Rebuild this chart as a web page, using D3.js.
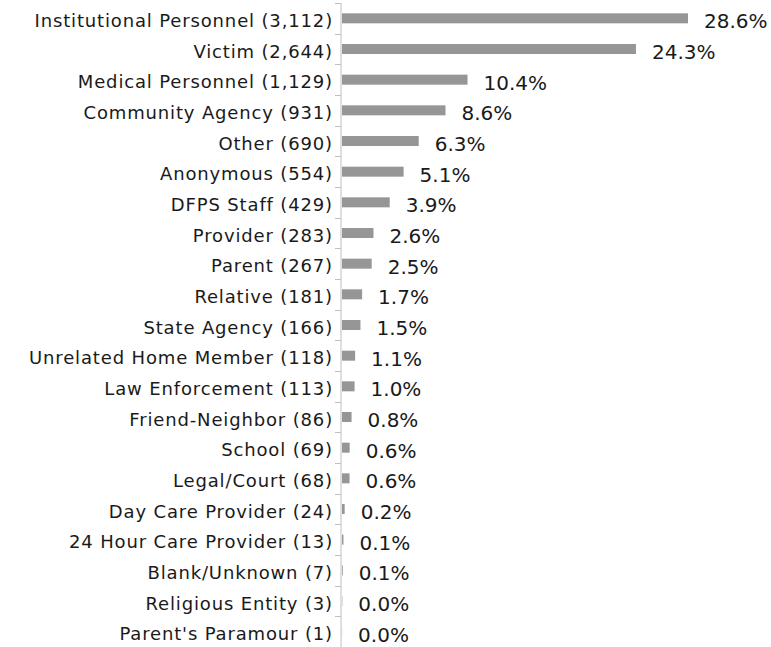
<!DOCTYPE html>
<html>
<head>
<meta charset="utf-8">
<script src="https://cdn.jsdelivr.net/npm/d3@7"></script>
<style>
  body { margin: 0; background: #fff; }
  text { font-family: "DejaVu Sans", sans-serif; fill: #1a1a1a; }
</style>
</head>
<body>
<script>
var categories = ["Institutional Personnel", "Victim", "Medical Personnel", "Community Agency",
    "Other", "Anonymous", "DFPS Staff", "Provider", "Parent", "Relative", "State Agency",
    "Unrelated Home Member", "Law Enforcement", "Friend-Neighbor", "School", "Legal/Court",
    "Day Care Provider", "24 Hour Care Provider", "Blank/Unknown", "Religious Entity",
    "Parent's Paramour"];
var counts = [3112, 2644, 1129, 931, 690, 554, 429, 283, 267, 181, 166, 118, 113, 86, 69, 68, 24, 13, 7, 3, 1];
var percentLabels = ["28.6%", "24.3%", "10.4%", "8.6%", "6.3%", "5.1%", "3.9%", "2.6%", "2.5%",
    "1.7%", "1.5%", "1.1%", "1.0%", "0.8%", "0.6%", "0.6%", "0.2%", "0.1%", "0.1%", "0.0%", "0.0%"];

var _width = 771,
    _height = 647,
    _axisX = 341;

var svg = d3.select("body").append("svg")
    .attr("width", _width)
    .attr("height", _height);

var y = d3.scaleBand()
    .domain(categories)
    .range([3, 647]);

var x = d3.scaleLinear()
    .domain([0, 3112])
    .range([_axisX + 1, 688]);

// axis line and ticks at band boundaries
var axisG = svg.append("g").attr("class", "axis");
axisG.append("line")
    .attr("x1", _axisX).attr("x2", _axisX)
    .attr("y1", y.range()[0]).attr("y2", y.range()[1])
    .attr("stroke", "#bfbfbf").attr("stroke-width", 1);

var bounds = categories.map(function(c) { return y(c); }).concat([y.range()[1]]);
axisG.selectAll("line.tick")
    .data(bounds)
    .enter().append("line")
    .attr("class", "tick")
    .attr("x1", _axisX - 6).attr("x2", _axisX)
    .attr("y1", function(d) { return Math.round(d) + 0.5; })
    .attr("y2", function(d) { return Math.round(d) + 0.5; })
    .attr("stroke", "#bfbfbf");

// category labels
svg.append("g").selectAll("text")
    .data(categories)
    .enter().append("text")
    .attr("x", 333)
    .attr("y", function(d) { return y(d) + y.bandwidth() / 2 + 8.5; })
    .attr("text-anchor", "end")
    .style("font-size", "18px")
    .style("letter-spacing", "0.85px")
    .text(function(d, i) { return d + " (" + d3.format(",")(counts[i]) + ")"; });

// bars
var barH = 10;
svg.append("g").selectAll("rect")
    .data(counts)
    .enter().append("rect")
    .attr("x", x(0))
    .attr("y", function(d, i) { return y(categories[i]) + y.bandwidth() / 2 - barH / 2; })
    .attr("width", function(d) { return x(d) - x(0); })
    .attr("height", barH)
    .attr("fill", "#969696");

// value labels
svg.append("g").selectAll("text")
    .data(counts)
    .enter().append("text")
    .attr("x", function(d) { return x(d) + 16; })
    .attr("y", function(d, i) { return y(categories[i]) + y.bandwidth() / 2 + 10; })
    .style("font-size", "20px")
    .text(function(d, i) { return percentLabels[i]; });
</script>
</body>
</html>
